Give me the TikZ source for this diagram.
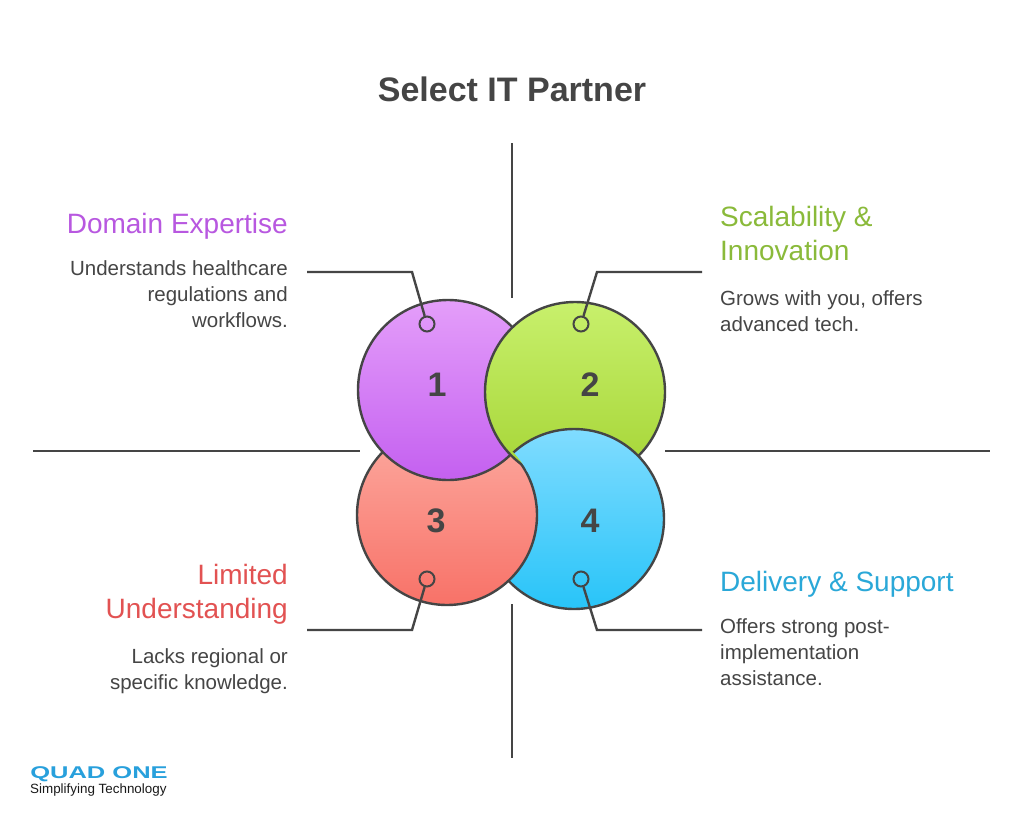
\documentclass[tikz,border=0pt]{standalone}
\usepackage{fontspec}
\setmainfont{Liberation Sans}
\begin{document}
\begin{tikzpicture}[x=1pt,y=-1pt,
  ln/.style={draw=black!73,line width=2.4pt},
  bub/.style={draw=black!73,line width=2.4pt},
  num/.style={font=\fontsize{34}{34}\selectfont\bfseries,text=black!73},
  head/.style={font=\fontsize{28}{34}\selectfont},
  desc/.style={font=\fontsize{20.5}{26}\selectfont,text=black!73},
  dot/.style={draw=black!73,line width=2pt,circle,minimum size=15pt,inner sep=0pt}]
\useasboundingbox (0,0) rectangle (1024,827);
\fill[white] (0,0) rectangle (1024,827);
\node[font=\fontsize{34}{34}\selectfont\bfseries,text=black!73] (title) at (512,89) {Select IT Partner};
% cross lines
\coordinate (v1) at (512,143); \coordinate (v2) at (512,298);
\coordinate (v3) at (512,604); \coordinate (v4) at (512,758);
\coordinate (h1) at (33,451); \coordinate (h2) at (360,451);
\coordinate (h3) at (665,451); \coordinate (h4) at (990,451);
\draw[ln] (v1)--(v2); \draw[ln] (v3)--(v4);
\draw[ln] (h1)--(h2); \draw[ln] (h3)--(h4);
% circles
\def\cfour{(574,519) circle (90)}
\def\cthree{(447,515) circle (90)}
\def\cone{(448,390) circle (90)}
\def\ctwo{(575,392) circle (90)}
\path[bub,top color={rgb,255:red,128;green,220;blue,255},bottom color={rgb,255:red,40;green,196;blue,248}] \cfour;
\path[bub,top color={rgb,255:red,252;green,170;blue,160},bottom color={rgb,255:red,248;green,114;blue,104}] \cthree;
\path[bub,top color={rgb,255:red,228;green,158;blue,250},bottom color={rgb,255:red,196;green,96;blue,240}] \cone;
\path[bub,top color={rgb,255:red,200;green,240;blue,108},bottom color={rgb,255:red,164;green,212;blue,52}] \ctwo;
\begin{scope}
\clip (575,392) circle (93);
\begin{scope}[even odd rule]
\clip (0,0) rectangle (1024,827) (447,515) circle (91.3);
\path[bub,top color={rgb,255:red,128;green,220;blue,255},bottom color={rgb,255:red,40;green,196;blue,248}] \cfour;
\end{scope}
\end{scope}
\node[num] (n1) at (437,385) {1};
\node[num] (n2) at (590,385) {2};
\node[num] (n3) at (436,521) {3};
\node[num] (n4) at (590,521) {4};
% dots and leaders
\node[dot] (d1) at (427,324) {};
\node[dot] (d2) at (581,324) {};
\node[dot] (d3) at (427,579) {};
\node[dot] (d4) at (581,579) {};
\coordinate (k1) at (412,272); \coordinate (e1) at (307,272);
\coordinate (k2) at (597,272); \coordinate (e2) at (702,272);
\coordinate (k3) at (412,630); \coordinate (e3) at (307,630);
\coordinate (k4) at (597,630); \coordinate (e4) at (702,630);
\draw[ln] (d1)--(k1)--(e1);
\draw[ln] (d2)--(k2)--(e2);
\draw[ln] (d3)--(k3)--(e3);
\draw[ln] (d4)--(k4)--(e4);
% texts
\node[head,anchor=east,inner sep=0pt,text={rgb,255:red,184;green,88;blue,224}] (t1) at (288,226) {Domain Expertise};
\node[desc,anchor=north east,align=right,inner sep=0pt] (s1) at (288,260) {Understands healthcare\\regulations and\\workflows.};
\node[head,anchor=north west,align=left,inner sep=0pt,text={rgb,255:red,138;green,186;blue,58}] (t2) at (720,206) {Scalability \&\\Innovation};
\node[desc,anchor=north west,align=left,inner sep=0pt] (s2) at (720,290) {Grows with you, offers\\advanced tech.};
\node[head,anchor=north east,align=right,inner sep=0pt,text={rgb,255:red,226;green,82;blue,82}] (t3) at (288,564) {Limited\\Understanding};
\node[desc,anchor=north east,align=right,inner sep=0pt] (s3) at (288,648) {Lacks regional or\\specific knowledge.};
\node[head,anchor=west,inner sep=0pt,text={rgb,255:red,42;green,168;blue,216}] (t4) at (720,584) {Delivery \& Support};
\node[desc,anchor=north west,align=left,inner sep=0pt] (s4) at (720,618) {Offers strong post-\\implementation\\assistance.};
% logo
\node[anchor=west,inner sep=0pt,font=\fontsize{17}{17}\selectfont\bfseries,text={rgb,255:red,40;green,160;blue,220},xscale=1.5] (logo) at (30,774) {QUAD ONE};
\node[anchor=west,inner sep=0pt,font=\fontsize{13.4}{13}\selectfont,text=black!90] (slogan) at (30,790) {Simplifying Technology};
\end{tikzpicture}
\end{document}
